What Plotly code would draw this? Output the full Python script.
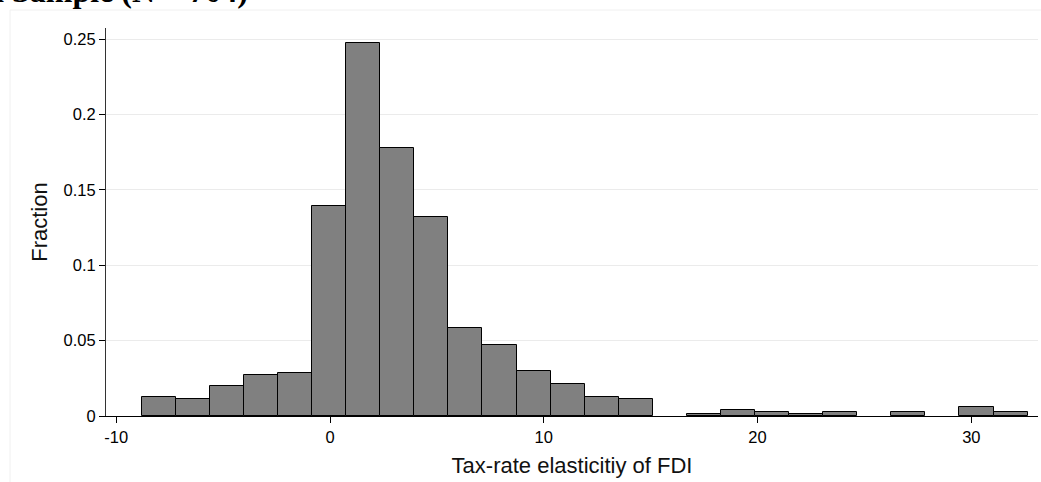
import plotly.graph_objects as go

# Histogram data (Stata-style fraction histogram, N = 704)
bin_start = -8.81
bin_width = 1.594
fractions = [0.0128, 0.0114, 0.0199, 0.0270, 0.0284, 0.1392, 0.2472, 0.1776,
             0.1321, 0.0582, 0.0469, 0.0298, 0.0213, 0.0128, 0.0114, 0.0,
             0.0014, 0.0043, 0.0028, 0.0014, 0.0028, 0.0, 0.0028, 0.0,
             0.0057, 0.0028]
x_ticks = [-10, 0, 10, 20, 30]
x_tick_labels = ["-10", "0", "10", "20", "30"]
y_ticks = [0, 0.05, 0.1, 0.15, 0.2, 0.25]
y_tick_labels = ["0", "0.05", "0.1", "0.15", "0.2", "0.25"]
title_text = "a Sample (N = 704)"
x_title = "Tax-rate elasticitiy of FDI"
y_title = "Fraction"

centers = [bin_start + bin_width * (i + 0.5) for i in range(len(fractions))]
bar_x = [c for c, f in zip(centers, fractions) if f > 0]
bar_y = [f for f in fractions if f > 0]

W, H = 1041, 482
ml, mr, mt, mb = 106, 3, 28, 66
pw, ph = W - ml - mr, H - mt - mb

fig = go.Figure()
fig.add_trace(go.Bar(
    x=bar_x, y=bar_y, width=bin_width,
    marker=dict(color="#808080", line=dict(color="black", width=1)),
    hoverinfo="x+y",
))

fig.update_layout(
    width=W, height=H,
    margin=dict(l=ml, r=mr, t=mt, b=mb, pad=0),
    paper_bgcolor="white", plot_bgcolor="white",
    font=dict(family="Liberation Sans, Arial, sans-serif", color="black", size=16),
    showlegend=False, bargap=0,
    xaxis=dict(
        range=[-10.48, 33.12], tickvals=x_ticks, ticktext=x_tick_labels,
        ticks="outside", ticklen=6,
        tickcolor="black", tickwidth=1, showgrid=False, zeroline=False,
        showline=True, linecolor="black", linewidth=1,
        tickfont=dict(size=16.5),
        title=dict(text=x_title, font=dict(size=22, color="#111"), standoff=12),
    ),
    yaxis=dict(
        range=[0, 0.2573], tickvals=y_ticks, ticktext=y_tick_labels,
        ticks="outside", ticklen=6, tickcolor="black", tickwidth=1,
        showgrid=True, gridcolor="#ebebeb", gridwidth=1, zeroline=False,
        showline=True, linecolor="#333", linewidth=1,
        tickfont=dict(size=16.5),
        title=dict(text=y_title, font=dict(size=22, color="#111"), standoff=9),
    ),
    shapes=[dict(
        type="rect", xref="paper", yref="paper", layer="below",
        x0=(10 - ml) / pw, x1=(W + 20 - ml) / pw,
        y0=(H - mb - (H + 20)) / ph, y1=(H - mb - 10) / ph,
        line=dict(color="#f0f0f0", width=1), fillcolor="rgba(0,0,0,0)",
    )],
    annotations=[dict(
        text="<b>" + title_text + "</b>", xref="paper", yref="paper",
        x=(250 - ml) / pw, xanchor="right",
        y=(H - mb - 11) / ph, yanchor="bottom",
        showarrow=False,
        font=dict(family="Liberation Serif, Times New Roman, serif", size=32, color="black"),
    )],
)

fig.write_html("out.html")
